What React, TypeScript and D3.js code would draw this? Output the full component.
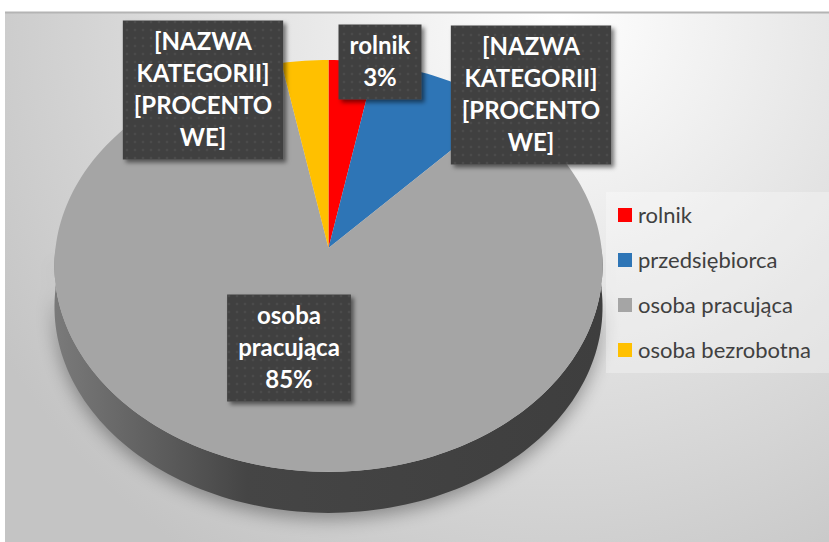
import React, { useEffect, useRef } from 'react';
import * as d3 from 'd3';

// chart data
const categories = ['rolnik', 'przedsiębiorca', 'osoba pracująca', 'osoba bezrobotna'];
const values = [3, 9, 85, 3];
const colors = ['#FF0000', '#2E75B6', '#A5A5A5', '#FFC000'];
const labelLines = [
  ['rolnik', '3%'],
  ['[NAZWA', 'KATEGORII]', '[PROCENTO', 'WE]'],
  ['osoba', 'pracująca', '85%'],
  ['[NAZWA', 'KATEGORII]', '[PROCENTO', 'WE]'],
];
// where excel put each data label (box centres)
const labelPos = [
  [380, 62],
  [531, 95],
  [289, 348],
  [203, 90],
];

export default function App() {
  const svgRef = useRef(null);

  useEffect(() => {
    const width = 829;
    const height = 542;
    const svg = d3.select(svgRef.current);
    svg.selectAll('*').remove();
    svg.attr('width', width).attr('height', height);

    const defs = svg.append('defs');
    const bg = defs.append('radialGradient').attr('id', 'bg')
      .attr('gradientUnits', 'userSpaceOnUse')
      .attr('cx', 560).attr('cy', 20).attr('r', 650);
    bg.append('stop').attr('offset', 0).attr('stop-color', '#ffffff');
    bg.append('stop').attr('offset', 1).attr('stop-color', '#c4c4c4');

    const side = defs.append('linearGradient').attr('id', 'side')
      .attr('gradientUnits', 'userSpaceOnUse')
      .attr('x1', 55).attr('x2', 602).attr('y1', 0).attr('y2', 0);
    side.append('stop').attr('offset', 0).attr('stop-color', '#7a7a7a');
    side.append('stop').attr('offset', 0.35).attr('stop-color', '#454545');
    side.append('stop').attr('offset', 1).attr('stop-color', '#3e3e3e');

    defs.append('filter').attr('id', 'blur')
      .attr('x', '-20%').attr('y', '-20%').attr('width', '140%').attr('height', '140%')
      .append('feGaussianBlur').attr('stdDeviation', 9);

    defs.append('filter').attr('id', 'boxShadow')
      .attr('x', '-20%').attr('y', '-20%').attr('width', '140%').attr('height', '140%')
      .append('feDropShadow')
      .attr('dx', 3).attr('dy', 3).attr('stdDeviation', 2)
      .attr('flood-color', '#000').attr('flood-opacity', 0.5);

    const dots = defs.append('pattern').attr('id', 'dots')
      .attr('patternUnits', 'userSpaceOnUse').attr('width', 8).attr('height', 8);
    dots.append('rect').attr('width', 8).attr('height', 8).attr('fill', '#404040');
    dots.append('circle').attr('cx', 4).attr('cy', 4).attr('r', 1.3).attr('fill', '#4c4c4c');

    // page + chart area
    svg.append('rect').attr('width', width).attr('height', height).attr('fill', '#fff');
    svg.append('rect').attr('x', 5).attr('y', 12).attr('width', width - 5).attr('height', height - 12)
      .attr('fill', 'url(#bg)');
    svg.append('line').attr('x1', 5).attr('x2', width).attr('y1', 12.5).attr('y2', 12.5)
      .attr('stroke', '#b4b4b4').attr('stroke-width', 2);

    // 3d pie, perspective projection of a tilted disc
    const cx = 328.5, cy = 248, A = 273, B = 204.4, k = 0.087, depth = 41;
    const proj = (phi: number): [number, number] => {
      const c = Math.sin(phi);
      const s = -Math.cos(phi);
      const d = 1 - k * s;
      return [cx + (A * c) / d, cy + (B * s) / d];
    };
    const arcPoints = (a0: number, a1: number) => {
      const n = Math.max(2, Math.ceil(((a1 - a0) / (Math.PI * 2)) * 240));
      return d3.range(n + 1).map(i => proj(a0 + ((a1 - a0) * i) / n));
    };
    const line = d3.line();

    const front = arcPoints(Math.PI / 2, (3 * Math.PI) / 2);
    const sidePts = front.map(p => [p[0], p[1] + depth] as [number, number])
      .concat(front.slice().reverse());

    // soft shadow under the pie
    svg.append('path')
      .attr('d', line(sidePts.concat([proj(Math.PI / 2)])) + 'Z')
      .attr('transform', 'translate(0,6)')
      .attr('fill', '#000').attr('opacity', 0.35)
      .attr('filter', 'url(#blur)');

    svg.append('path').attr('d', line(sidePts) + 'Z').attr('fill', 'url(#side)');

    const pie = d3.pie<number>().sort(null).value(d => d);
    const arcs = pie(values);
    svg.append('g').selectAll('path')
      .data(arcs)
      .join('path')
      .attr('d', d => line([[cx, cy] as [number, number]].concat(arcPoints(d.startAngle, d.endAngle))) + 'Z')
      .attr('fill', (d, i) => colors[i]);

    // data labels
    const lh = 32;
    const lg = svg.append('g').selectAll('g')
      .data(labelLines)
      .join('g')
      .attr('transform', (d, i) => `translate(${labelPos[i][0]},${labelPos[i][1]})`);
    const box = lg.append('rect').attr('fill', 'url(#dots)').attr('filter', 'url(#boxShadow)');
    const txt = lg.append('text')
      .attr('text-anchor', 'middle')
      .attr('fill', '#fff')
      .style('font-family', 'Lato, "Noto Sans", sans-serif')
      .style('font-weight', 700)
      .style('font-size', '24px');
    txt.selectAll('tspan')
      .data(d => d.map((t, j) => ({ t, j, n: d.length })))
      .join('tspan')
      .attr('x', 0)
      .attr('y', d => (d.j - (d.n - 1) / 2) * lh)
      .attr('dy', '0.35em')
      .text(d => d.t);
    txt.each(function (d, i) {
      const w = (this as SVGTextElement).getBBox().width + 22;
      const h = d.length * lh + 11;
      d3.select(box.nodes()[i])
        .attr('x', -w / 2).attr('y', -h / 2)
        .attr('width', w).attr('height', h);
    });

    // legend
    svg.append('rect').attr('x', 606).attr('y', 192).attr('width', 223).attr('height', 181)
      .attr('fill', '#fff').attr('opacity', 0.3);
    const yLeg = d3.scalePoint().domain(categories).range([215, 350]);
    const leg = svg.append('g').selectAll('g')
      .data(categories)
      .join('g')
      .attr('transform', d => `translate(618,${yLeg(d)})`);
    leg.append('rect').attr('x', 0).attr('y', -7).attr('width', 14).attr('height', 14)
      .attr('fill', (d, i) => colors[i]);
    leg.append('text')
      .attr('x', 20).attr('dy', '0.35em')
      .attr('fill', '#404040')
      .style('font-family', 'Lato, "Noto Sans", sans-serif')
      .style('font-size', '22px')
      .text(d => d);
  }, []);

  return <svg ref={svgRef} style={{ position: 'absolute', left: 0, top: 0 }}></svg>;
}
